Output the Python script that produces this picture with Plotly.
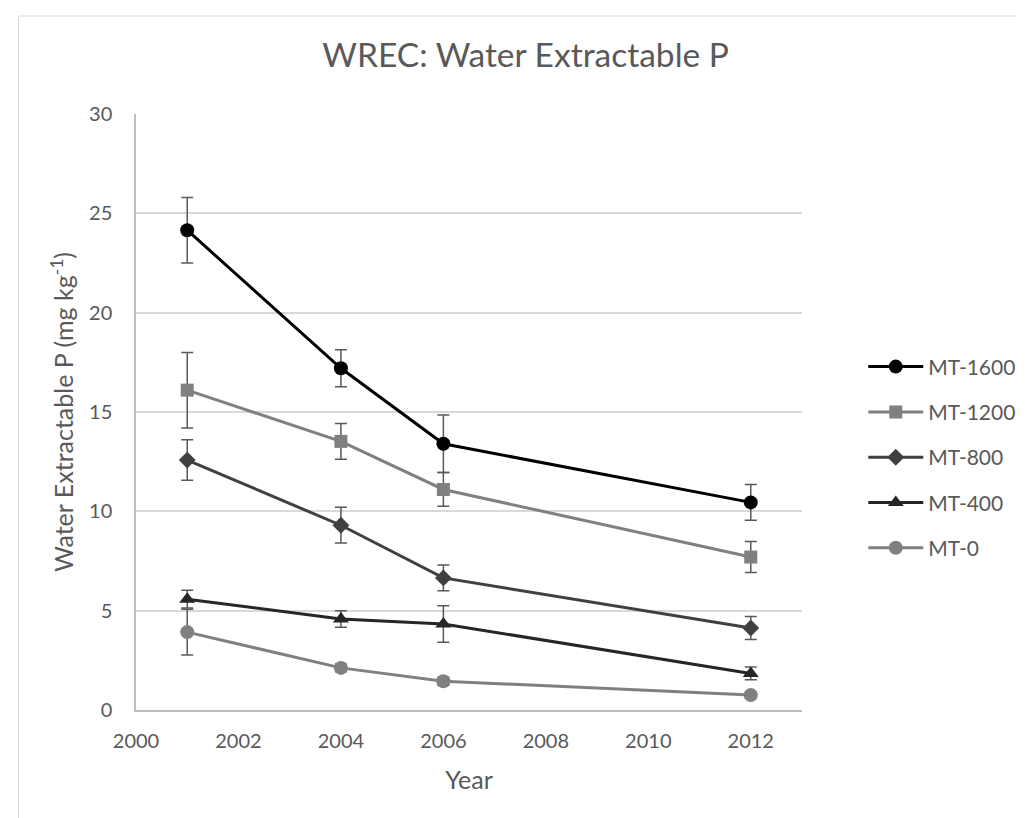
import plotly.graph_objects as go

years = [2001, 2004, 2006, 2012]
series_names = ["MT-1600", "MT-1200", "MT-800", "MT-400", "MT-0"]
mt1600 = [24.15, 17.2, 13.4, 10.45]
mt1600_err = [1.65, 0.93, 1.45, 0.9]
mt1200 = [16.1, 13.52, 11.1, 7.7]
mt1200_err = [1.9, 0.9, 0.85, 0.78]
mt800 = [12.58, 9.3, 6.65, 4.13]
mt800_err = [1.02, 0.9, 0.65, 0.58]
mt400 = [5.58, 4.58, 4.33, 1.84]
mt400_err = [0.45, 0.42, 0.92, 0.32]
mt0 = [3.92, 2.12, 1.45, 0.75]
mt0_err = [1.15, 0.2, 0.2, 0.15]

values = [mt1600, mt1200, mt800, mt400, mt0]
errors = [mt1600_err, mt1200_err, mt800_err, mt400_err, mt0_err]
colors = ["#000000", "#808080", "#404040", "#262626", "#808080"]
symbols = ["circle", "square", "diamond", "triangle-up", "circle"]
sizes = [14, 13, 13, 14, 14]

FONT = "Lato"
TXT = "#595959"

fig = go.Figure()
for name, v, e, c, s, sz in zip(series_names, values, errors, colors, symbols, sizes):
    fig.add_trace(go.Scatter(
        x=years, y=v, name=name, mode="lines+markers",
        legendgroup=name,
        line=dict(color=c, width=3),
        marker=dict(symbol=s, size=sz, color=c),
        error_y=dict(type="data", array=e, visible=True, color="#595959", thickness=1.5, width=6),
    ))

fig.update_layout(
    width=1025, height=818,
    paper_bgcolor="white", plot_bgcolor="white",
    margin=dict(l=128, r=228, t=106, b=116),
    font=dict(family=FONT, color=TXT, size=20),
    title=dict(text="WREC: Water Extractable P", x=0.505, xanchor="center", y=0.942, yanchor="middle",
               font=dict(family=FONT, size=33.5, color=TXT)),
    xaxis=dict(range=[2000, 2013], dtick=2, tick0=2000, showgrid=False, zeroline=False,
               showline=True, linecolor="#bfbfbf", linewidth=1.5, ticks="",
               tickfont=dict(size=20, color=TXT), ticklabelstandoff=12,
               title=dict(text="Year", font=dict(size=25, color=TXT), standoff=21)),
    yaxis=dict(range=[0, 30], dtick=5, showgrid=True, gridcolor="#d9d9d9", gridwidth=1.5,
               zeroline=False, showline=True, linecolor="#bfbfbf", linewidth=1.5, ticks="",
               tickfont=dict(size=20, color=TXT), ticklabelstandoff=18,
               title=dict(text="Water Extractable P (mg kg<sup>-1</sup>)", font=dict(size=25, color=TXT), standoff=8)),
    legend=dict(x=1.092, xanchor="left", y=0.61, yanchor="top", tracegroupgap=15,
                font=dict(size=21, color=TXT), itemwidth=55, bgcolor="rgba(0,0,0,0)"),
    shapes=[dict(type="rect", xref="paper", yref="paper",
                 x0=(10 - 128) / 669, x1=(1020 - 128) / 669,
                 y0=-(815 - 702) / 596, y1=1 + (106 - 8) / 596,
                 line=dict(color="#d9d9d9", width=1), fillcolor="rgba(0,0,0,0)", layer="below")],
)

fig.write_html("out.html")
